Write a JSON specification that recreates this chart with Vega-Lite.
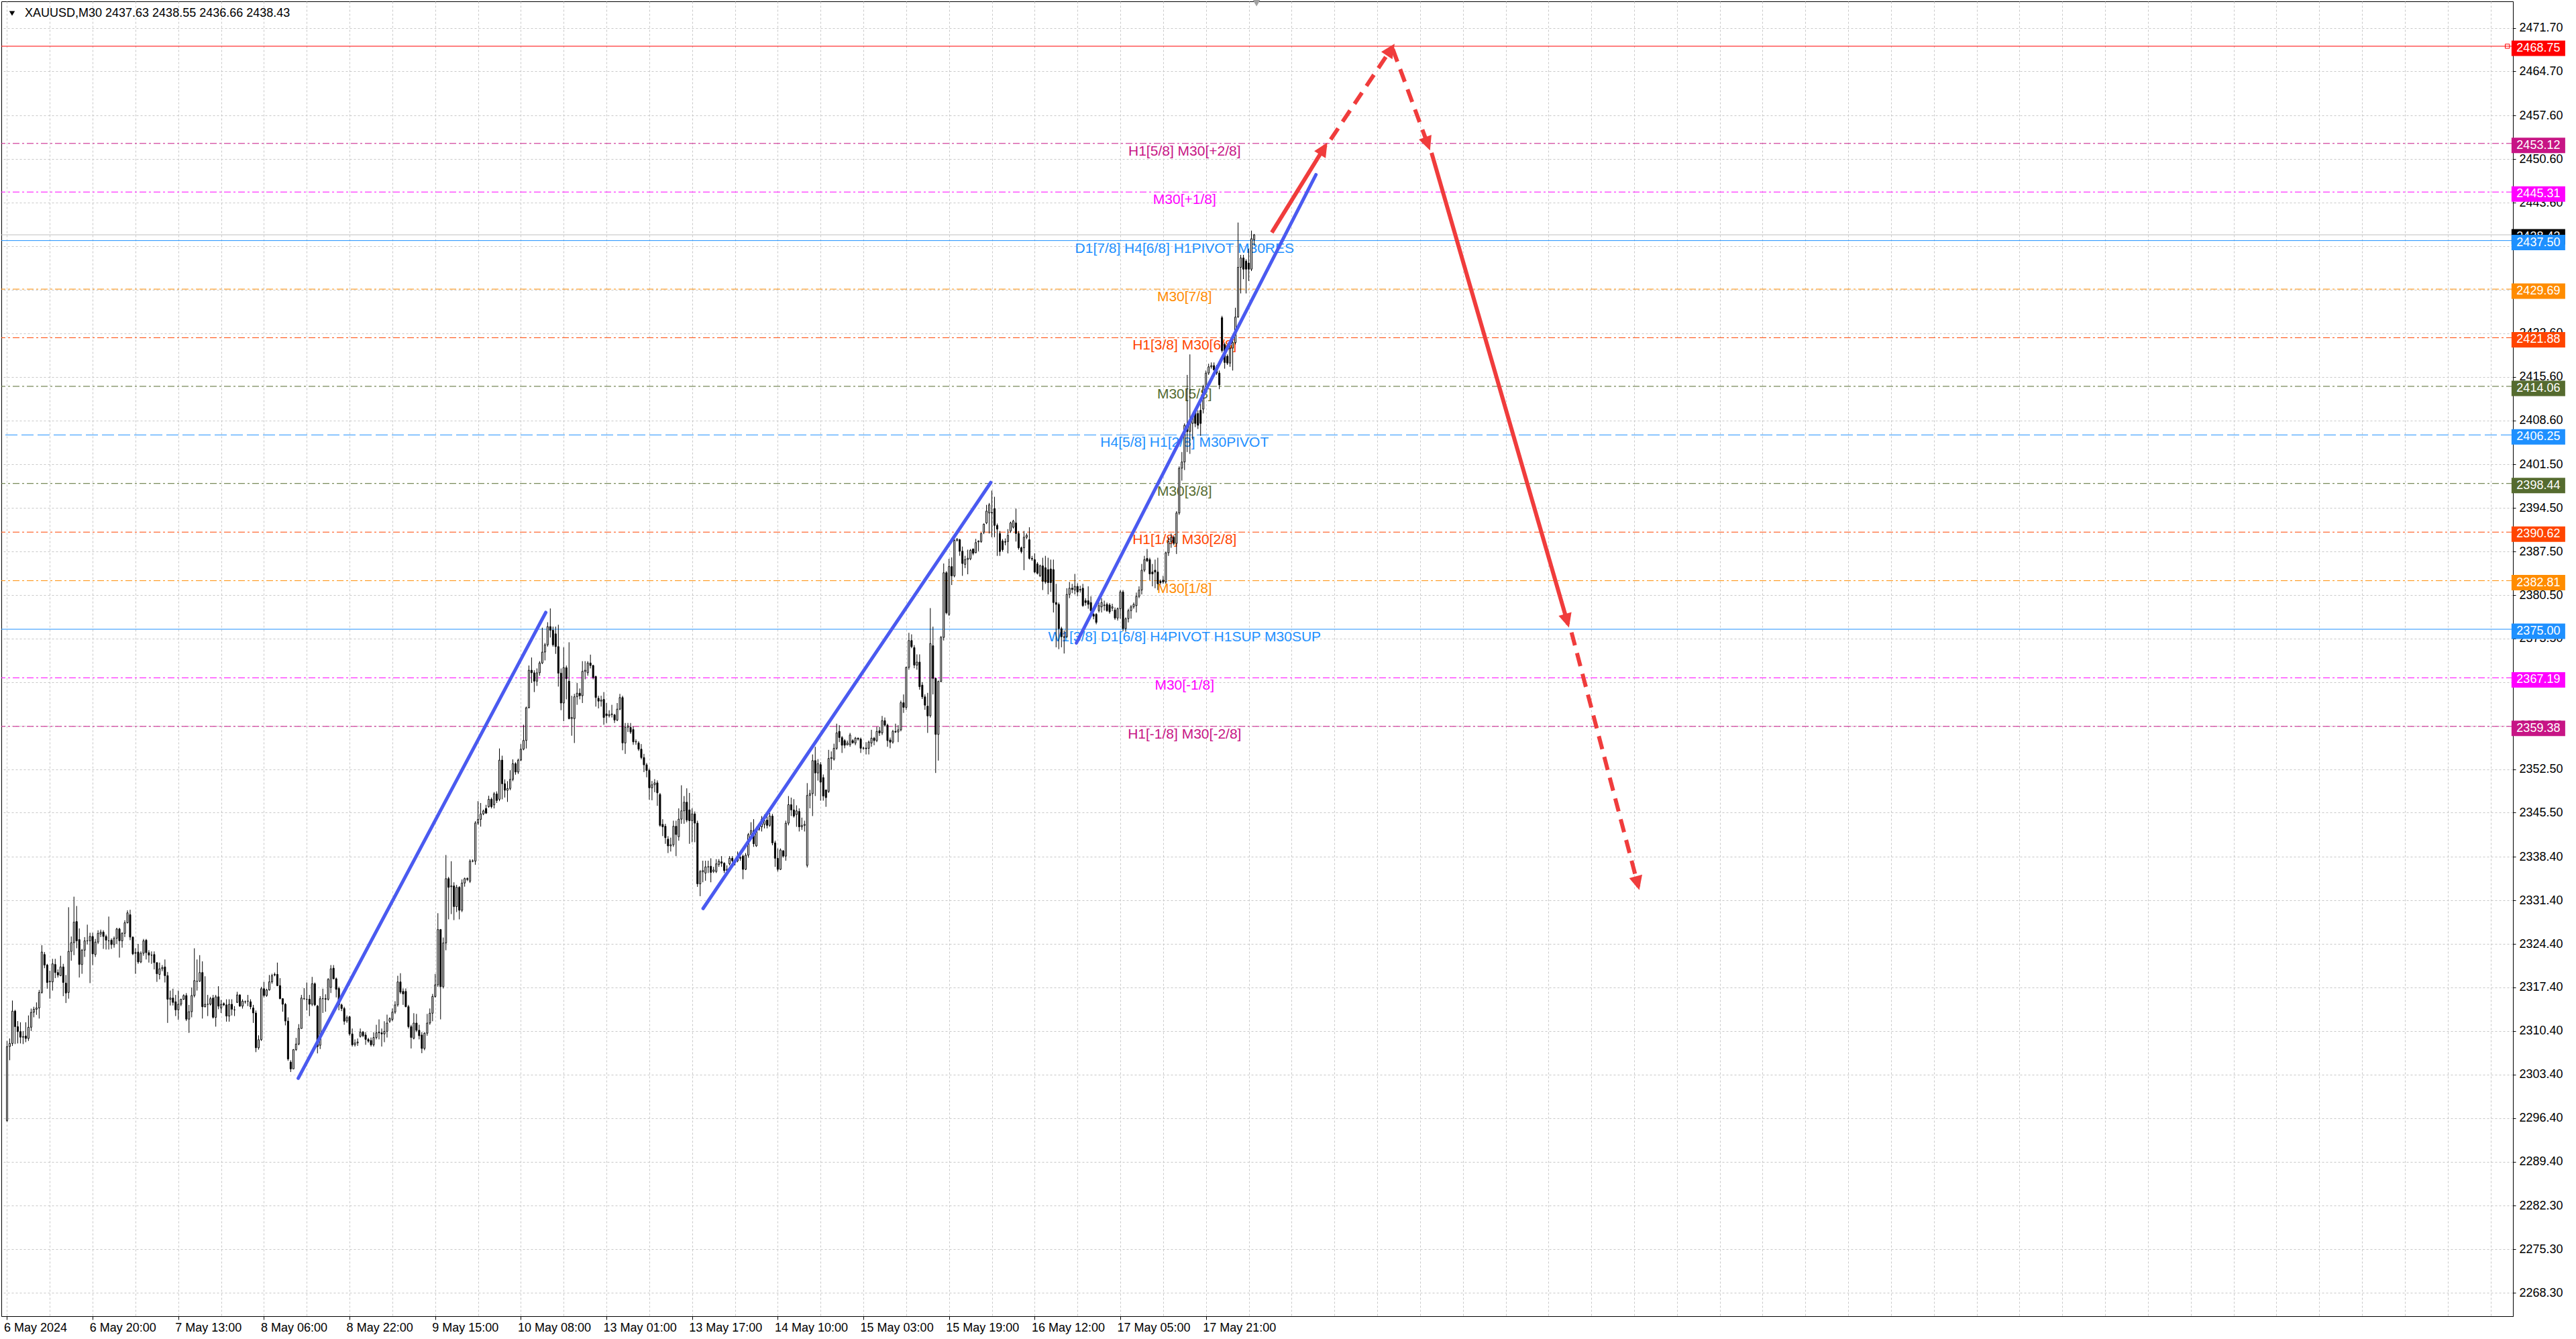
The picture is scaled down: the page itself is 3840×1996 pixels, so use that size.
{
"$schema": "https://vega.github.io/schema/vega-lite/v6.json",
"width": 3744, "height": 1960,
"autosize": {"type": "none"},
"padding": {"left": 2, "top": 2, "right": 94, "bottom": 34},
"background": "white",
"config": {"view": {"stroke": "#000", "strokeWidth": 1}},
"datasets": {
"candles": [
{"i":0,"o":2296.0,"h":2308.8,"l":2295.8,"c":2307.9},{"i":1,"o":2307.9,"h":2309.2,"l":2305.7,"c":2308.4},{"i":2,"o":2308.4,"h":2315.3,"l":2308.0,"c":2313.6},{"i":3,"o":2313.6,"h":2313.8,"l":2308.3,"c":2311.1},{"i":4,"o":2311.1,"h":2312.0,"l":2308.4,"c":2310.3},{"i":5,"o":2310.3,"h":2311.8,"l":2308.4,"c":2309.4},{"i":6,"o":2309.4,"h":2310.4,"l":2308.3,"c":2309.5},{"i":7,"o":2309.6,"h":2311.8,"l":2308.6,"c":2309.2},{"i":8,"o":2309.2,"h":2312.9,"l":2308.8,"c":2311.0},{"i":9,"o":2311.0,"h":2314.0,"l":2310.4,"c":2313.4},
{"i":10,"o":2313.4,"h":2314.3,"l":2312.6,"c":2313.9},{"i":11,"o":2313.9,"h":2315.0,"l":2313.0,"c":2314.1},{"i":12,"o":2314.1,"h":2317.0,"l":2312.4,"c":2316.6},{"i":13,"o":2316.6,"h":2324.2,"l":2316.4,"c":2323.1},{"i":14,"o":2322.7,"h":2323.1,"l":2320.5,"c":2321.0},{"i":15,"o":2321.0,"h":2321.2,"l":2317.2,"c":2318.2},{"i":16,"o":2318.3,"h":2320.1,"l":2315.6,"c":2318.4},{"i":17,"o":2318.3,"h":2322.0,"l":2316.9,"c":2321.2},{"i":18,"o":2321.1,"h":2322.0,"l":2318.9,"c":2319.8},{"i":19,"o":2319.8,"h":2320.3,"l":2319.0,"c":2319.4},
{"i":20,"o":2319.3,"h":2322.5,"l":2319.2,"c":2320.7},{"i":21,"o":2320.7,"h":2321.2,"l":2316.0,"c":2318.2},{"i":22,"o":2318.1,"h":2319.4,"l":2314.9,"c":2316.5},{"i":23,"o":2316.6,"h":2330.3,"l":2315.6,"c":2323.2},{"i":24,"o":2323.2,"h":2325.6,"l":2321.7,"c":2324.6},{"i":25,"o":2324.6,"h":2332.0,"l":2322.6,"c":2327.9},{"i":26,"o":2328.0,"h":2330.5,"l":2323.7,"c":2324.9},{"i":27,"o":2325.1,"h":2326.9,"l":2319.0,"c":2321.1},{"i":28,"o":2321.1,"h":2323.6,"l":2319.6,"c":2323.4},{"i":29,"o":2323.4,"h":2325.5,"l":2322.3,"c":2324.9},
{"i":30,"o":2324.9,"h":2327.5,"l":2324.3,"c":2324.9},{"i":31,"o":2324.9,"h":2326.2,"l":2318.1,"c":2325.6},{"i":32,"o":2325.6,"h":2326.2,"l":2321.0,"c":2322.8},{"i":33,"o":2322.7,"h":2325.2,"l":2322.3,"c":2324.7},{"i":34,"o":2324.7,"h":2326.6,"l":2324.4,"c":2326.1},{"i":35,"o":2326.0,"h":2326.7,"l":2325.5,"c":2326.3},{"i":36,"o":2326.3,"h":2326.6,"l":2323.6,"c":2325.6},{"i":37,"o":2325.6,"h":2325.9,"l":2323.5,"c":2325.0},{"i":38,"o":2324.9,"h":2328.8,"l":2323.5,"c":2324.9},{"i":39,"o":2325.0,"h":2325.3,"l":2323.6,"c":2324.3},
{"i":40,"o":2324.3,"h":2325.6,"l":2323.8,"c":2325.3},{"i":41,"o":2325.3,"h":2327.0,"l":2324.4,"c":2326.8},{"i":42,"o":2326.8,"h":2327.0,"l":2322.2,"c":2324.9},{"i":43,"o":2324.9,"h":2326.3,"l":2323.8,"c":2326.1},{"i":44,"o":2326.1,"h":2328.2,"l":2325.5,"c":2327.8},{"i":45,"o":2327.8,"h":2329.8,"l":2327.7,"c":2329.4},{"i":46,"o":2329.1,"h":2329.9,"l":2325.0,"c":2325.5},{"i":47,"o":2325.5,"h":2325.6,"l":2322.6,"c":2322.8},{"i":48,"o":2322.9,"h":2323.7,"l":2319.6,"c":2323.0},{"i":49,"o":2323.1,"h":2324.4,"l":2321.2,"c":2321.5},
{"i":50,"o":2321.5,"h":2323.2,"l":2321.3,"c":2322.9},{"i":51,"o":2322.9,"h":2325.2,"l":2322.5,"c":2324.9},{"i":52,"o":2325.0,"h":2325.2,"l":2321.9,"c":2323.0},{"i":53,"o":2323.0,"h":2323.4,"l":2321.4,"c":2322.6},{"i":54,"o":2322.6,"h":2323.2,"l":2321.2,"c":2322.6},{"i":55,"o":2322.7,"h":2323.2,"l":2320.3,"c":2321.4},{"i":56,"o":2321.4,"h":2321.4,"l":2318.3,"c":2319.6},{"i":57,"o":2319.5,"h":2321.4,"l":2318.7,"c":2320.4},{"i":58,"o":2320.4,"h":2321.0,"l":2320.0,"c":2320.6},{"i":59,"o":2320.7,"h":2321.9,"l":2318.2,"c":2319.3},
{"i":60,"o":2319.3,"h":2319.9,"l":2311.7,"c":2315.5},{"i":61,"o":2315.5,"h":2316.9,"l":2314.5,"c":2315.7},{"i":62,"o":2315.7,"h":2317.2,"l":2314.5,"c":2315.0},{"i":63,"o":2315.1,"h":2316.2,"l":2312.8,"c":2313.8},{"i":64,"o":2313.8,"h":2316.9,"l":2312.2,"c":2314.7},{"i":65,"o":2314.7,"h":2315.6,"l":2314.4,"c":2315.5},{"i":66,"o":2315.5,"h":2316.3,"l":2315.4,"c":2316.1},{"i":67,"o":2316.1,"h":2316.5,"l":2312.0,"c":2312.3},{"i":68,"o":2312.3,"h":2314.6,"l":2310.1,"c":2313.5},{"i":69,"o":2313.5,"h":2317.4,"l":2312.6,"c":2316.1},
{"i":70,"o":2316.1,"h":2323.7,"l":2315.8,"c":2318.5},{"i":71,"o":2318.4,"h":2321.9,"l":2316.9,"c":2318.4},{"i":72,"o":2318.4,"h":2322.6,"l":2318.3,"c":2319.8},{"i":73,"o":2319.8,"h":2321.6,"l":2312.4,"c":2314.3},{"i":74,"o":2314.3,"h":2319.2,"l":2314.2,"c":2314.7},{"i":75,"o":2314.7,"h":2316.2,"l":2312.8,"c":2314.7},{"i":76,"o":2314.7,"h":2315.9,"l":2314.5,"c":2315.6},{"i":77,"o":2315.7,"h":2316.2,"l":2312.4,"c":2312.6},{"i":78,"o":2312.6,"h":2316.2,"l":2311.1,"c":2315.9},{"i":79,"o":2315.9,"h":2317.6,"l":2313.9,"c":2314.4},
{"i":80,"o":2314.1,"h":2315.4,"l":2313.3,"c":2314.7},{"i":81,"o":2314.8,"h":2315.0,"l":2314.4,"c":2314.6},{"i":82,"o":2314.6,"h":2315.5,"l":2311.9,"c":2312.8},{"i":83,"o":2312.8,"h":2315.5,"l":2311.9,"c":2314.7},{"i":84,"o":2314.7,"h":2315.5,"l":2312.9,"c":2313.9},{"i":85,"o":2313.8,"h":2314.4,"l":2312.8,"c":2313.8},{"i":86,"o":2315.0,"h":2316.7,"l":2314.9,"c":2316.2},{"i":87,"o":2316.2,"h":2316.3,"l":2314.3,"c":2314.4},{"i":88,"o":2314.4,"h":2315.5,"l":2314.0,"c":2315.2},{"i":89,"o":2315.1,"h":2315.3,"l":2314.8,"c":2315.1},
{"i":90,"o":2315.2,"h":2316.2,"l":2314.4,"c":2315.2},{"i":91,"o":2315.1,"h":2315.5,"l":2313.9,"c":2314.3},{"i":92,"o":2314.1,"h":2314.6,"l":2311.7,"c":2313.3},{"i":93,"o":2313.3,"h":2313.7,"l":2307.0,"c":2307.7},{"i":94,"o":2307.7,"h":2309.7,"l":2307.4,"c":2309.0},{"i":95,"o":2309.0,"h":2317.5,"l":2308.8,"c":2317.2},{"i":96,"o":2317.2,"h":2318.3,"l":2315.8,"c":2316.1},{"i":97,"o":2316.1,"h":2317.2,"l":2315.9,"c":2317.0},{"i":98,"o":2317.0,"h":2319.4,"l":2316.9,"c":2318.3},{"i":99,"o":2318.3,"h":2319.6,"l":2318.0,"c":2319.3},
{"i":100,"o":2319.4,"h":2319.8,"l":2319.2,"c":2319.5},{"i":101,"o":2319.5,"h":2321.4,"l":2317.6,"c":2317.7},{"i":102,"o":2317.7,"h":2318.9,"l":2315.5,"c":2315.6},{"i":103,"o":2315.6,"h":2315.6,"l":2313.5,"c":2314.7},{"i":104,"o":2314.7,"h":2314.9,"l":2311.3,"c":2312.0},{"i":105,"o":2312.0,"h":2312.6,"l":2305.6,"c":2305.9},{"i":106,"o":2305.4,"h":2305.7,"l":2303.8,"c":2304.3},{"i":107,"o":2304.3,"h":2307.5,"l":2304.3,"c":2307.4},{"i":108,"o":2307.4,"h":2309.3,"l":2307.2,"c":2308.3},{"i":109,"o":2308.3,"h":2311.5,"l":2308.1,"c":2310.8},
{"i":110,"o":2310.8,"h":2316.2,"l":2310.8,"c":2315.7},{"i":111,"o":2315.6,"h":2317.3,"l":2315.4,"c":2315.6},{"i":112,"o":2315.5,"h":2318.2,"l":2313.7,"c":2315.5},{"i":113,"o":2315.5,"h":2316.2,"l":2312.8,"c":2314.7},{"i":114,"o":2314.7,"h":2319.1,"l":2314.4,"c":2318.0},{"i":115,"o":2318.0,"h":2318.2,"l":2314.4,"c":2314.6},{"i":116,"o":2314.4,"h":2314.6,"l":2306.8,"c":2307.9},{"i":117,"o":2308.1,"h":2316.0,"l":2307.5,"c":2315.6},{"i":118,"o":2315.6,"h":2317.2,"l":2313.3,"c":2315.6},{"i":119,"o":2315.6,"h":2316.3,"l":2313.5,"c":2315.5},
{"i":120,"o":2315.5,"h":2318.9,"l":2315.3,"c":2318.7},{"i":121,"o":2317.4,"h":2321.0,"l":2316.5,"c":2320.4},{"i":122,"o":2320.5,"h":2321.0,"l":2318.7,"c":2318.8},{"i":123,"o":2318.8,"h":2319.0,"l":2315.8,"c":2317.1},{"i":124,"o":2317.24,"h":2317.53,"l":2313.73,"c":2314.6},{"i":125,"o":2314.6,"h":2314.8,"l":2313.6,"c":2314.02},{"i":126,"o":2314.02,"h":2314.3,"l":2311.4,"c":2311.97},{"i":127,"o":2312.0,"h":2312.9,"l":2311.7,"c":2312.56},{"i":128,"o":2312.68,"h":2312.85,"l":2309.64,"c":2309.93},{"i":129,"o":2309.93,"h":2310.8,"l":2307.9,"c":2308.18},
{"i":130,"o":2308.2,"h":2309.05,"l":2307.9,"c":2308.47},{"i":131,"o":2308.47,"h":2309.2,"l":2308.0,"c":2308.64},{"i":132,"o":2309.52,"h":2310.8,"l":2309.35,"c":2310.22},{"i":133,"o":2310.22,"h":2310.4,"l":2309.4,"c":2309.64},{"i":134,"o":2309.75,"h":2310.22,"l":2308.18,"c":2309.05},{"i":135,"o":2309.05,"h":2309.3,"l":2308.5,"c":2308.76},{"i":136,"o":2308.88,"h":2309.35,"l":2307.9,"c":2308.18},{"i":137,"o":2308.18,"h":2310.2,"l":2307.9,"c":2309.35},{"i":138,"o":2309.35,"h":2311.4,"l":2309.05,"c":2310.1},{"i":139,"o":2310.1,"h":2312.27,"l":2309.05,"c":2310.22},
{"i":140,"o":2310.1,"h":2310.8,"l":2307.9,"c":2309.93},{"i":141,"o":2309.93,"h":2311.97,"l":2308.6,"c":2310.34},{"i":142,"o":2310.34,"h":2313.03,"l":2309.35,"c":2311.68},{"i":143,"o":2311.97,"h":2312.6,"l":2311.7,"c":2312.38},{"i":144,"o":2312.27,"h":2314.02,"l":2311.97,"c":2313.44},{"i":145,"o":2313.44,"h":2315.19,"l":2313.15,"c":2314.6},{"i":146,"o":2314.6,"h":2319.28,"l":2314.31,"c":2318.29},{"i":147,"o":2318.29,"h":2319.69,"l":2316.36,"c":2316.65},{"i":148,"o":2316.77,"h":2317.24,"l":2314.6,"c":2316.36},{"i":149,"o":2316.77,"h":2317.24,"l":2314.2,"c":2314.31},
{"i":150,"o":2314.31,"h":2314.6,"l":2310.8,"c":2311.1},{"i":151,"o":2311.1,"h":2311.4,"l":2307.59,"c":2309.35},{"i":152,"o":2309.23,"h":2313.26,"l":2309.05,"c":2311.68},{"i":153,"o":2311.68,"h":2313.15,"l":2310.22,"c":2310.51},{"i":154,"o":2310.51,"h":2311.4,"l":2309.05,"c":2309.64},{"i":155,"o":2309.75,"h":2310.22,"l":2306.83,"c":2307.59},{"i":156,"o":2307.59,"h":2310.2,"l":2307.3,"c":2310.04},{"i":157,"o":2310.04,"h":2313.15,"l":2309.64,"c":2311.68},{"i":158,"o":2311.68,"h":2314.02,"l":2311.4,"c":2313.26},{"i":159,"o":2313.26,"h":2316.36,"l":2311.97,"c":2315.95},
{"i":160,"o":2315.95,"h":2319.58,"l":2315.78,"c":2317.82},{"i":161,"o":2317.82,"h":2329.34,"l":2317.5,"c":2326.71},{"i":162,"o":2326.71,"h":2326.8,"l":2312.27,"c":2317.53},{"i":163,"o":2317.53,"h":2325.43,"l":2317.24,"c":2324.55},{"i":164,"o":2324.55,"h":2338.7,"l":2323.38,"c":2334.9},{"i":165,"o":2334.9,"h":2335.19,"l":2328.35,"c":2333.5},{"i":166,"o":2333.6,"h":2337.7,"l":2329.2,"c":2333.73},{"i":167,"o":2333.73,"h":2334.31,"l":2328.23,"c":2330.4},{"i":168,"o":2330.4,"h":2333.9,"l":2329.52,"c":2333.5},{"i":169,"o":2333.5,"h":2333.7,"l":2328.35,"c":2329.81},
{"i":170,"o":2329.81,"h":2334.78,"l":2329.52,"c":2334.2},{"i":171,"o":2334.2,"h":2335.07,"l":2333.61,"c":2334.9},{"i":172,"o":2334.9,"h":2335.1,"l":2334.5,"c":2334.78},{"i":173,"o":2334.49,"h":2338.0,"l":2334.2,"c":2337.71},{"i":174,"o":2337.71,"h":2338.0,"l":2337.53,"c":2337.75},{"i":175,"o":2337.71,"h":2344.14,"l":2337.12,"c":2343.85},{"i":176,"o":2343.85,"h":2347.36,"l":2343.55,"c":2344.43},{"i":177,"o":2344.43,"h":2347.06,"l":2343.26,"c":2345.31},{"i":178,"o":2345.31,"h":2346.0,"l":2345.1,"c":2345.78},{"i":179,"o":2346.19,"h":2346.77,"l":2345.31,"c":2345.43},
{"i":180,"o":2346.48,"h":2348.23,"l":2346.3,"c":2347.65},{"i":181,"o":2347.65,"h":2347.94,"l":2346.19,"c":2346.48},{"i":182,"o":2346.77,"h":2348.82,"l":2346.19,"c":2348.53},{"i":183,"o":2348.53,"h":2348.93,"l":2347.06,"c":2347.47},{"i":184,"o":2347.65,"h":2355.83,"l":2347.36,"c":2353.96},{"i":185,"o":2353.96,"h":2354.67,"l":2347.65,"c":2350.16},{"i":186,"o":2350.16,"h":2350.86,"l":2347.94,"c":2349.11},{"i":187,"o":2349.11,"h":2350.57,"l":2347.24,"c":2349.4},{"i":188,"o":2349.4,"h":2352.33,"l":2349.11,"c":2350.86},{"i":189,"o":2350.86,"h":2354.08,"l":2350.57,"c":2353.38},
{"i":190,"o":2353.38,"h":2353.61,"l":2351.62,"c":2352.04},{"i":191,"o":2352.04,"h":2354.2,"l":2351.74,"c":2353.96},{"i":192,"o":2353.96,"h":2356.54,"l":2353.79,"c":2355.72},{"i":193,"o":2355.72,"h":2359.64,"l":2355.54,"c":2357.12},{"i":194,"o":2357.12,"h":2362.56,"l":2355.83,"c":2362.38},{"i":195,"o":2362.38,"h":2369.17,"l":2362.27,"c":2368.41},{"i":196,"o":2368.41,"h":2370.46,"l":2366.36,"c":2368.0},{"i":197,"o":2368.0,"h":2368.41,"l":2364.9,"c":2366.65},{"i":198,"o":2366.65,"h":2368.7,"l":2365.89,"c":2368.0},{"i":199,"o":2368.0,"h":2369.87,"l":2367.53,"c":2369.58},
{"i":200,"o":2369.58,"h":2375.25,"l":2369.4,"c":2371.33},{"i":201,"o":2371.33,"h":2372.79,"l":2369.99,"c":2372.5},{"i":202,"o":2372.5,"h":2376.13,"l":2372.21,"c":2375.43},{"i":203,"o":2375.43,"h":2378.35,"l":2373.67,"c":2374.84},{"i":204,"o":2374.84,"h":2375.43,"l":2372.21,"c":2372.5},{"i":205,"o":2374.26,"h":2375.43,"l":2371.04,"c":2372.21},{"i":206,"o":2372.21,"h":2375.72,"l":2365.78,"c":2367.94},{"i":207,"o":2367.94,"h":2368.7,"l":2361.98,"c":2363.14},{"i":208,"o":2363.14,"h":2372.09,"l":2360.22,"c":2368.82},{"i":209,"o":2368.82,"h":2369.17,"l":2363.73,"c":2367.06},
{"i":210,"o":2366.65,"h":2372.91,"l":2360.51,"c":2360.63},{"i":211,"o":2360.63,"h":2364.31,"l":2357.88,"c":2360.81},{"i":212,"o":2360.63,"h":2364.61,"l":2356.71,"c":2364.14},{"i":213,"o":2364.14,"h":2366.36,"l":2362.85,"c":2364.72},{"i":214,"o":2364.72,"h":2365.48,"l":2363.73,"c":2364.31},{"i":215,"o":2364.31,"h":2369.87,"l":2363.14,"c":2368.23},{"i":216,"o":2368.23,"h":2369.87,"l":2366.95,"c":2368.41},{"i":217,"o":2368.0,"h":2369.87,"l":2367.53,"c":2369.58},{"i":218,"o":2369.58,"h":2370.92,"l":2368.7,"c":2369.17},{"i":219,"o":2369.17,"h":2369.29,"l":2366.95,"c":2367.24},
{"i":220,"o":2367.41,"h":2367.53,"l":2362.56,"c":2364.02},{"i":221,"o":2363.9,"h":2364.31,"l":2362.27,"c":2363.44},{"i":222,"o":2363.44,"h":2364.31,"l":2362.56,"c":2363.61},{"i":223,"o":2363.73,"h":2364.9,"l":2359.64,"c":2360.81},{"i":224,"o":2361.39,"h":2363.14,"l":2359.93,"c":2361.1},{"i":225,"o":2361.1,"h":2361.98,"l":2360.81,"c":2361.27},{"i":226,"o":2361.27,"h":2362.85,"l":2360.81,"c":2361.39},{"i":227,"o":2361.22,"h":2361.39,"l":2359.93,"c":2360.4},{"i":228,"o":2360.4,"h":2363.14,"l":2360.22,"c":2362.15},{"i":229,"o":2362.15,"h":2364.61,"l":2361.98,"c":2364.02},
{"i":230,"o":2364.02,"h":2364.31,"l":2355.54,"c":2356.71},{"i":231,"o":2356.71,"h":2359.93,"l":2354.96,"c":2359.23},{"i":232,"o":2359.23,"h":2359.93,"l":2358.47,"c":2359.46},{"i":233,"o":2359.23,"h":2359.93,"l":2358.17,"c":2358.47},{"i":234,"o":2358.88,"h":2359.35,"l":2356.42,"c":2356.89},{"i":235,"o":2356.89,"h":2357.3,"l":2356.42,"c":2356.95},{"i":236,"o":2356.71,"h":2357.0,"l":2355.43,"c":2355.72},{"i":237,"o":2355.72,"h":2356.54,"l":2354.08,"c":2354.37},{"i":238,"o":2354.37,"h":2354.96,"l":2352.03,"c":2353.2},{"i":239,"o":2353.2,"h":2353.5,"l":2351.2,"c":2352.3},
{"i":240,"o":2352.3,"h":2352.6,"l":2347.6,"c":2349.5},{"i":241,"o":2349.5,"h":2350.6,"l":2347.5,"c":2350.0},{"i":242,"o":2350.0,"h":2350.9,"l":2348.8,"c":2350.3},{"i":243,"o":2350.3,"h":2350.7,"l":2346.6,"c":2348.7},{"i":244,"o":2348.43,"h":2348.68,"l":2343.23,"c":2343.47},{"i":245,"o":2343.62,"h":2344.46,"l":2341.74,"c":2343.23},{"i":246,"o":2343.32,"h":2343.72,"l":2340.5,"c":2341.49},{"i":247,"o":2341.25,"h":2341.74,"l":2339.01,"c":2340.16},{"i":248,"o":2340.16,"h":2341.49,"l":2339.26,"c":2340.35},{"i":249,"o":2340.35,"h":2344.22,"l":2340.01,"c":2343.32},
{"i":250,"o":2343.32,"h":2344.22,"l":2338.52,"c":2341.99},{"i":251,"o":2341.64,"h":2346.2,"l":2341.0,"c":2344.46},{"i":252,"o":2344.46,"h":2349.91,"l":2343.72,"c":2345.8},{"i":253,"o":2345.8,"h":2348.18,"l":2343.72,"c":2347.19},{"i":254,"o":2347.19,"h":2349.42,"l":2343.97,"c":2344.32},{"i":255,"o":2345.95,"h":2348.68,"l":2340.5,"c":2344.22},{"i":256,"o":2344.22,"h":2346.2,"l":2340.75,"c":2345.31},{"i":257,"o":2345.31,"h":2345.7,"l":2340.75,"c":2343.82},{"i":258,"o":2343.82,"h":2344.22,"l":2333.57,"c":2334.06},{"i":259,"o":2334.06,"h":2336.29,"l":2332.08,"c":2336.04},
{"i":260,"o":2336.0,"h":2337.78,"l":2334.31,"c":2336.2},{"i":261,"o":2335.8,"h":2337.78,"l":2334.56,"c":2336.79},{"i":262,"o":2336.79,"h":2337.78,"l":2335.8,"c":2336.8},{"i":263,"o":2336.89,"h":2338.17,"l":2334.31,"c":2335.9},{"i":264,"o":2336.04,"h":2336.79,"l":2335.8,"c":2336.29},{"i":265,"o":2336.04,"h":2338.03,"l":2335.8,"c":2337.28},{"i":266,"o":2337.18,"h":2338.03,"l":2336.79,"c":2337.68},{"i":267,"o":2337.6,"h":2338.52,"l":2336.79,"c":2337.38},{"i":268,"o":2337.38,"h":2337.53,"l":2335.8,"c":2336.19},{"i":269,"o":2336.2,"h":2337.03,"l":2336.04,"c":2336.39},
{"i":270,"o":2337.28,"h":2338.52,"l":2337.03,"c":2338.17},{"i":271,"o":2338.17,"h":2338.52,"l":2337.53,"c":2337.78},{"i":272,"o":2337.78,"h":2338.03,"l":2337.03,"c":2337.8},{"i":273,"o":2337.78,"h":2339.26,"l":2337.53,"c":2338.17},{"i":274,"o":2338.17,"h":2338.77,"l":2337.78,"c":2338.3},{"i":275,"o":2338.52,"h":2338.77,"l":2334.81,"c":2336.39},{"i":276,"o":2336.39,"h":2339.01,"l":2336.29,"c":2338.67},{"i":277,"o":2338.67,"h":2342.24,"l":2338.27,"c":2341.99},{"i":278,"o":2341.99,"h":2343.97,"l":2341.25,"c":2342.63},{"i":279,"o":2342.63,"h":2344.46,"l":2340.01,"c":2340.5},
{"i":280,"o":2340.16,"h":2343.23,"l":2340.01,"c":2342.83},{"i":281,"o":2342.83,"h":2343.5,"l":2342.6,"c":2343.23},{"i":282,"o":2343.23,"h":2344.96,"l":2342.48,"c":2344.46},{"i":283,"o":2343.62,"h":2345.21,"l":2342.98,"c":2344.22},{"i":284,"o":2344.32,"h":2344.96,"l":2342.98,"c":2343.47},{"i":285,"o":2343.47,"h":2345.45,"l":2343.23,"c":2344.96},{"i":286,"o":2344.96,"h":2345.31,"l":2340.26,"c":2340.65},{"i":287,"o":2340.65,"h":2341.0,"l":2336.79,"c":2338.17},{"i":288,"o":2338.17,"h":2339.76,"l":2336.04,"c":2336.39},{"i":289,"o":2336.39,"h":2339.76,"l":2336.29,"c":2339.51},
{"i":290,"o":2339.36,"h":2339.51,"l":2338.27,"c":2338.52},{"i":291,"o":2338.52,"h":2344.22,"l":2337.78,"c":2343.82},{"i":292,"o":2343.82,"h":2348.18,"l":2343.47,"c":2346.79},{"i":293,"o":2346.79,"h":2347.93,"l":2344.96,"c":2345.95},{"i":294,"o":2345.95,"h":2347.68,"l":2344.71,"c":2344.96},{"i":295,"o":2345.21,"h":2346.69,"l":2343.23,"c":2345.8},{"i":296,"o":2345.7,"h":2346.2,"l":2342.48,"c":2343.23},{"i":297,"o":2343.23,"h":2344.71,"l":2342.73,"c":2343.47},{"i":298,"o":2343.47,"h":2344.22,"l":2342.48,"c":2343.62},{"i":299,"o":2337.03,"h":2350.26,"l":2336.69,"c":2348.28},
{"i":300,"o":2348.28,"h":2349.17,"l":2346.2,"c":2348.57},{"i":301,"o":2348.57,"h":2354.87,"l":2344.96,"c":2353.88},{"i":302,"o":2353.88,"h":2356.1,"l":2348.18,"c":2351.89},{"i":303,"o":2351.89,"h":2354.12,"l":2350.66,"c":2353.38},{"i":304,"o":2353.23,"h":2353.63,"l":2347.44,"c":2350.41},{"i":305,"o":2351.15,"h":2351.65,"l":2347.44,"c":2348.18},{"i":306,"o":2349.17,"h":2349.17,"l":2346.45,"c":2347.93},{"i":307,"o":2348.92,"h":2355.61,"l":2348.68,"c":2354.22},{"i":308,"o":2354.22,"h":2355.36,"l":2352.39,"c":2354.37},{"i":309,"o":2354.12,"h":2356.6,"l":2353.88,"c":2355.86},
{"i":310,"o":2355.86,"h":2359.82,"l":2355.61,"c":2358.33},{"i":311,"o":2358.58,"h":2359.57,"l":2356.85,"c":2357.59},{"i":312,"o":2357.59,"h":2357.84,"l":2355.11,"c":2356.35},{"i":313,"o":2357.1,"h":2357.34,"l":2355.86,"c":2356.35},{"i":314,"o":2356.4,"h":2357.1,"l":2356.35,"c":2356.7},{"i":315,"o":2356.45,"h":2358.33,"l":2356.1,"c":2357.99},{"i":316,"o":2357.1,"h":2357.34,"l":2356.6,"c":2356.75},{"i":317,"o":2356.7,"h":2357.69,"l":2356.35,"c":2357.49},{"i":318,"o":2357.49,"h":2357.59,"l":2357.1,"c":2357.34},{"i":319,"o":2357.34,"h":2357.59,"l":2355.11,"c":2355.86},
{"i":320,"o":2355.86,"h":2356.1,"l":2355.61,"c":2355.9},{"i":321,"o":2355.9,"h":2356.85,"l":2354.87,"c":2355.8},{"i":322,"o":2355.86,"h":2357.1,"l":2354.87,"c":2356.85},{"i":323,"o":2356.7,"h":2358.83,"l":2356.1,"c":2357.49},{"i":324,"o":2357.49,"h":2357.69,"l":2356.35,"c":2357.1},{"i":325,"o":2357.1,"h":2359.32,"l":2356.85,"c":2358.58},{"i":326,"o":2358.68,"h":2359.32,"l":2357.84,"c":2358.33},{"i":327,"o":2358.33,"h":2361.06,"l":2357.99,"c":2360.31},{"i":328,"o":2360.31,"h":2360.81,"l":2359.32,"c":2359.57},{"i":329,"o":2359.57,"h":2359.82,"l":2356.1,"c":2357.1},
{"i":330,"o":2357.2,"h":2357.59,"l":2355.86,"c":2356.85},{"i":331,"o":2356.85,"h":2358.83,"l":2356.6,"c":2358.58},{"i":332,"o":2358.58,"h":2359.82,"l":2358.33,"c":2358.48},{"i":333,"o":2358.48,"h":2359.57,"l":2356.85,"c":2358.83},{"i":334,"o":2358.83,"h":2363.53,"l":2358.58,"c":2363.19},{"i":335,"o":2363.19,"h":2364.52,"l":2361.55,"c":2362.44},{"i":336,"o":2362.44,"h":2368.98,"l":2362.05,"c":2368.88},{"i":337,"o":2368.88,"h":2374.43,"l":2368.49,"c":2373.19},{"i":338,"o":2373.19,"h":2374.18,"l":2371.95,"c":2372.2},{"i":339,"o":2372.05,"h":2372.45,"l":2368.73,"c":2369.23},
{"i":340,"o":2369.23,"h":2370.96,"l":2368.49,"c":2369.72},{"i":341,"o":2369.72,"h":2370.96,"l":2365.27,"c":2365.76},{"i":342,"o":2366.01,"h":2366.5,"l":2363.78,"c":2364.13},{"i":343,"o":2364.13,"h":2364.52,"l":2362.05,"c":2362.79},{"i":344,"o":2362.64,"h":2364.77,"l":2358.33,"c":2361.06},{"i":345,"o":2361.1,"h":2378.4,"l":2360.8,"c":2372.7},{"i":346,"o":2372.35,"h":2375.42,"l":2364.52,"c":2367.1},{"i":347,"o":2367.1,"h":2367.25,"l":2351.89,"c":2358.09},{"i":348,"o":2358.09,"h":2366.75,"l":2353.88,"c":2366.6},{"i":349,"o":2366.6,"h":2373.93,"l":2366.5,"c":2373.69},
{"i":350,"o":2373.69,"h":2385.57,"l":2373.19,"c":2384.09},{"i":351,"o":2384.09,"h":2384.34,"l":2377.4,"c":2377.65},{"i":352,"o":2377.4,"h":2386.32,"l":2377.15,"c":2385.08},{"i":353,"o":2385.08,"h":2386.56,"l":2382.11,"c":2383.59},{"i":354,"o":2383.59,"h":2389.54,"l":2383.35,"c":2389.29},{"i":355,"o":2389.29,"h":2389.6,"l":2389.1,"c":2389.54},{"i":356,"o":2389.39,"h":2389.54,"l":2386.81,"c":2387.55},{"i":357,"o":2387.55,"h":2388.3,"l":2383.59,"c":2385.57},{"i":358,"o":2385.43,"h":2386.81,"l":2384.83,"c":2386.22},{"i":359,"o":2386.22,"h":2387.8,"l":2383.84,"c":2386.42},
{"i":360,"o":2386.32,"h":2387.9,"l":2386.1,"c":2387.7},{"i":361,"o":2387.9,"h":2388.0,"l":2386.9,"c":2387.21},{"i":362,"o":2387.31,"h":2389.54,"l":2387.21,"c":2388.94},{"i":363,"o":2389.04,"h":2389.3,"l":2387.55,"c":2389.19},{"i":364,"o":2389.1,"h":2390.5,"l":2388.9,"c":2390.4},{"i":365,"o":2390.6,"h":2392.0,"l":2390.3,"c":2391.9},{"i":366,"o":2392.1,"h":2395.0,"l":2391.9,"c":2394.0},{"i":367,"o":2393.7,"h":2395.3,"l":2390.4,"c":2395.0},{"i":368,"o":2393.7,"h":2397.3,"l":2389.8,"c":2393.8},{"i":369,"o":2394.4,"h":2396.3,"l":2389.8,"c":2391.7},
{"i":370,"o":2391.7,"h":2392.0,"l":2386.8,"c":2391.1},{"i":371,"o":2390.4,"h":2390.8,"l":2386.8,"c":2387.5},{"i":372,"o":2389.2,"h":2389.5,"l":2387.5,"c":2387.8},{"i":373,"o":2389.1,"h":2389.6,"l":2388.5,"c":2389.0},{"i":374,"o":2389.1,"h":2391.1,"l":2387.2,"c":2390.1},{"i":375,"o":2390.8,"h":2392.3,"l":2390.5,"c":2392.1},{"i":376,"o":2391.4,"h":2392.6,"l":2391.2,"c":2392.4},{"i":377,"o":2392.1,"h":2394.4,"l":2389.1,"c":2390.4},{"i":378,"o":2390.4,"h":2390.8,"l":2387.8,"c":2388.1},{"i":379,"o":2388.1,"h":2388.3,"l":2387.2,"c":2387.5},
{"i":380,"o":2388.1,"h":2390.8,"l":2384.5,"c":2389.8},{"i":381,"o":2389.8,"h":2390.4,"l":2389.5,"c":2390.1},{"i":382,"o":2389.4,"h":2391.4,"l":2386.2,"c":2386.4},{"i":383,"o":2386.4,"h":2386.8,"l":2386.0,"c":2386.3},{"i":384,"o":2386.2,"h":2387.2,"l":2384.0,"c":2384.2},{"i":385,"o":2385.5,"h":2385.8,"l":2383.8,"c":2384.0},{"i":386,"o":2383.6,"h":2385.4,"l":2383.4,"c":2385.2},{"i":387,"o":2385.2,"h":2386.5,"l":2381.3,"c":2382.7},{"i":388,"o":2384.9,"h":2386.8,"l":2382.3,"c":2382.6},{"i":389,"o":2384.6,"h":2386.5,"l":2380.6,"c":2382.5},
{"i":390,"o":2384.7,"h":2386.2,"l":2381.0,"c":2382.5},{"i":391,"o":2384.6,"h":2386.2,"l":2377.7,"c":2379.3},{"i":392,"o":2379.3,"h":2382.3,"l":2372.1,"c":2379.0},{"i":393,"o":2379.0,"h":2379.3,"l":2371.8,"c":2375.1},{"i":394,"o":2375.1,"h":2375.4,"l":2372.1,"c":2373.8},{"i":395,"o":2373.8,"h":2374.8,"l":2371.1,"c":2373.7},{"i":396,"o":2373.8,"h":2381.6,"l":2373.6,"c":2380.6},{"i":397,"o":2380.6,"h":2382.6,"l":2380.0,"c":2381.6},{"i":398,"o":2381.6,"h":2382.3,"l":2380.8,"c":2381.4},{"i":399,"o":2381.3,"h":2383.9,"l":2380.6,"c":2381.9},
{"i":400,"o":2381.9,"h":2382.4,"l":2380.3,"c":2381.0},{"i":401,"o":2381.4,"h":2382.0,"l":2380.9,"c":2381.3},{"i":402,"o":2381.6,"h":2382.3,"l":2378.6,"c":2378.8},{"i":403,"o":2379.6,"h":2380.0,"l":2378.8,"c":2379.3},{"i":404,"o":2379.6,"h":2381.9,"l":2378.3,"c":2379.0},{"i":405,"o":2379.3,"h":2380.3,"l":2377.7,"c":2378.0},{"i":406,"o":2377.4,"h":2377.6,"l":2376.6,"c":2377.1},{"i":407,"o":2377.4,"h":2377.6,"l":2375.8,"c":2376.1},{"i":408,"o":2378.0,"h":2379.3,"l":2377.7,"c":2378.8},{"i":409,"o":2378.6,"h":2380.0,"l":2377.7,"c":2379.3},
{"i":410,"o":2378.8,"h":2379.6,"l":2378.0,"c":2378.9},{"i":411,"o":2379.0,"h":2379.3,"l":2377.8,"c":2378.0},{"i":412,"o":2378.9,"h":2379.2,"l":2377.5,"c":2377.8},{"i":413,"o":2378.4,"h":2379.1,"l":2377.9,"c":2378.6},{"i":414,"o":2378.1,"h":2378.5,"l":2376.5,"c":2376.8},{"i":415,"o":2376.8,"h":2378.5,"l":2376.4,"c":2378.3},{"i":416,"o":2378.3,"h":2381.3,"l":2376.7,"c":2381.0},{"i":417,"o":2381.0,"h":2381.3,"l":2374.7,"c":2375.1},{"i":418,"o":2375.1,"h":2376.9,"l":2374.6,"c":2376.7},{"i":419,"o":2376.7,"h":2378.3,"l":2376.1,"c":2378.0},
{"i":420,"o":2378.0,"h":2378.9,"l":2376.7,"c":2378.6},{"i":421,"o":2378.6,"h":2379.3,"l":2378.3,"c":2379.0},{"i":422,"o":2378.8,"h":2380.9,"l":2377.7,"c":2380.3},{"i":423,"o":2380.3,"h":2381.9,"l":2380.0,"c":2381.3},{"i":424,"o":2381.3,"h":2385.5,"l":2380.6,"c":2384.5},{"i":425,"o":2384.5,"h":2386.8,"l":2384.2,"c":2386.2},{"i":426,"o":2386.4,"h":2387.9,"l":2385.8,"c":2386.0},{"i":427,"o":2386.2,"h":2386.5,"l":2382.9,"c":2383.9},{"i":428,"o":2384.2,"h":2385.5,"l":2381.9,"c":2383.9},{"i":429,"o":2384.5,"h":2386.2,"l":2381.6,"c":2384.2},
{"i":430,"o":2384.2,"h":2386.5,"l":2381.3,"c":2382.3},{"i":431,"o":2382.7,"h":2383.0,"l":2382.2,"c":2382.5},{"i":432,"o":2382.9,"h":2383.6,"l":2382.3,"c":2382.6},{"i":433,"o":2382.6,"h":2387.5,"l":2382.3,"c":2387.3},{"i":434,"o":2387.3,"h":2389.8,"l":2386.8,"c":2389.1},{"i":435,"o":2389.1,"h":2390.4,"l":2388.1,"c":2389.8},{"i":436,"o":2389.8,"h":2390.1,"l":2388.5,"c":2388.8},{"i":437,"o":2388.8,"h":2394.0,"l":2387.1,"c":2393.7},{"i":438,"o":2393.7,"h":2401.2,"l":2393.4,"c":2400.9},{"i":439,"o":2400.9,"h":2403.5,"l":2398.9,"c":2401.9},
{"i":440,"o":2401.9,"h":2408.1,"l":2400.6,"c":2407.8},{"i":441,"o":2407.8,"h":2415.9,"l":2403.5,"c":2406.8},{"i":442,"o":2406.8,"h":2419.2,"l":2403.2,"c":2408.4},{"i":443,"o":2408.1,"h":2409.7,"l":2405.5,"c":2409.4},{"i":444,"o":2410.0,"h":2410.5,"l":2407.5,"c":2408.1},{"i":445,"o":2409.7,"h":2410.2,"l":2407.2,"c":2407.8},{"i":446,"o":2410.2,"h":2411.3,"l":2406.1,"c":2408.1},{"i":447,"o":2410.4,"h":2414.3,"l":2409.7,"c":2414.0},{"i":448,"o":2414.0,"h":2416.6,"l":2413.6,"c":2416.2},{"i":449,"o":2416.2,"h":2417.7,"l":2415.9,"c":2417.2},
{"i":450,"o":2417.2,"h":2417.9,"l":2416.9,"c":2417.4},{"i":451,"o":2417.4,"h":2417.9,"l":2416.6,"c":2416.7},{"i":452,"o":2417.2,"h":2417.5,"l":2415.9,"c":2416.2},{"i":453,"o":2416.2,"h":2416.6,"l":2413.6,"c":2414.3},{"i":454,"o":2425.1,"h":2425.4,"l":2419.5,"c":2419.8},{"i":455,"o":2420.8,"h":2421.1,"l":2416.9,"c":2417.9},{"i":456,"o":2418.9,"h":2419.2,"l":2417.5,"c":2417.8},{"i":457,"o":2417.8,"h":2421.5,"l":2417.2,"c":2420.2},{"i":458,"o":2420.2,"h":2421.8,"l":2416.6,"c":2421.1},{"i":459,"o":2421.1,"h":2426.7,"l":2420.8,"c":2425.2},
{"i":460,"o":2425.2,"h":2440.4,"l":2425.1,"c":2433.2},{"i":461,"o":2433.2,"h":2435.2,"l":2429.0,"c":2434.7},{"i":462,"o":2434.7,"h":2435.2,"l":2431.3,"c":2432.9},{"i":463,"o":2434.2,"h":2434.5,"l":2429.0,"c":2432.9},{"i":464,"o":2433.9,"h":2436.2,"l":2431.0,"c":2432.9},{"i":465,"o":2432.9,"h":2439.1,"l":2432.6,"c":2437.8},{"i":466,"o":2437.63,"h":2438.55,"l":2436.66,"c":2438.43}
],
"levels": [
{"p":2468.75,"grp":"target","label":""},
{"p":2453.12,"grp":"ext2","label":"H1[5/8] M30[+2/8]"},
{"p":2445.31,"grp":"ext1","label":"M30[+1/8]"},
{"p":2437.50,"grp":"edge","label":"D1[7/8] H4[6/8] H1PIVOT M30RES"},
{"p":2429.69,"grp":"q7","label":"M30[7/8]"},
{"p":2421.88,"grp":"q6","label":"H1[3/8] M30[6/8]"},
{"p":2414.06,"grp":"q5","label":"M30[5/8]"},
{"p":2406.25,"grp":"pivot","label":"H4[5/8] H1[2/8] M30PIVOT"},
{"p":2398.44,"grp":"q5","label":"M30[3/8]"},
{"p":2390.62,"grp":"q6","label":"H1[1/8] M30[2/8]"},
{"p":2382.81,"grp":"q7","label":"M30[1/8]"},
{"p":2375.00,"grp":"edge","label":"W1[3/8] D1[6/8] H4PIVOT H1SUP M30SUP"},
{"p":2367.19,"grp":"ext1","label":"M30[-1/8]"},
{"p":2359.38,"grp":"ext2","label":"H1[-1/8] M30[-2/8]"}
],
"bid": [{"p":2438.43}],
"trends": [
{"i1":108.8,"p1":2302.8,"i2":201.3,"p2":2377.7},
{"i1":260.1,"p1":2330.1,"i2":367.6,"p2":2398.6},
{"i1":399.6,"p1":2372.8,"i2":489.1,"p2":2448.1}
],
"arrows": [
{"i1":472.6,"p1":2438.8,"i2":492.7,"p2":2452.8,"leg":"firm"},
{"i1":494.6,"p1":2453.75,"i2":517.8,"p2":2468.7,"leg":"tentative"},
{"i1":517.8,"p1":2468.3,"i2":531.3,"p2":2452.5,"leg":"tentative"},
{"i1":532.3,"p1":2451.6,"i2":583.3,"p2":2375.8,"leg":"firm"},
{"i1":584.6,"p1":2374.5,"i2":609.6,"p2":2333.6,"leg":"tentative"}
],
"title": [{"t":"XAUUSD,M30  2437.63 2438.55 2436.66 2438.43"}]
},
"layer": [
{
"data": {"name": "levels"},
"mark": {"type": "rule", "strokeWidth": 1},
"encoding": {
"y": {"field": "p", "type": "quantitative", "title": null, "scale": {"domain": [2264.54, 2475.97], "nice": false, "zero": false}},
"color": {"field": "grp", "type": "nominal", "legend": null, "scale": {"domain": ["ext2","ext1","edge","pivot","q7","q6","q5","target"], "range": ["#C71585","#FF00FF","#1E90FF","#1E90FF","#FF8C00","#FF4500","#556B2F","#FF0000"]}},
"strokeDash": {"field": "grp", "type": "nominal", "legend": null, "scale": {"domain": ["ext2","ext1","edge","pivot","q7","q6","q5","target"], "range": [[10,4,3,4],[10,4,3,4],[1,0],[18,6],[10,4,3,4],[10,4,3,4],[10,4,3,4],[1,0]]}}
}
},
{
"data": {"name": "bid"},
"mark": {"type": "rule", "strokeWidth": 1, "color": "#C0C0C0"},
"encoding": {
"y": {"field": "p", "type": "quantitative", "title": null, "scale": {"domain": [2264.54, 2475.97], "nice": false, "zero": false}}
}
},
{
"data": {"name": "levels"},
"transform": [{"filter": "datum.label != ''"}],
"mark": {"type": "text", "font": "Liberation Sans", "fontSize": 21, "align": "center", "baseline": "middle", "dy": 12},
"encoding": {
"x": {"datum": 440, "type": "quantitative", "scale": {"domain": [-0.875, 935.125], "nice": false, "zero": false}},
"y": {"field": "p", "type": "quantitative", "title": null, "scale": {"domain": [2264.54, 2475.97], "nice": false, "zero": false}},
"text": {"field": "label"},
"color": {"field": "grp", "type": "nominal", "legend": null, "scale": {"domain": ["ext2","ext1","edge","pivot","q7","q6","q5","target"], "range": ["#C71585","#FF00FF","#1E90FF","#1E90FF","#FF8C00","#FF4500","#556B2F","#FF0000"]}}
}
},
{
"data": {"name": "candles"},
"mark": {"type": "rule", "color": "#000", "strokeWidth": 1},
"encoding": {
"x": {"field": "i", "type": "quantitative", "title": null,
  "scale": {"domain": [-0.875, 935.125], "nice": false, "zero": false},
  "axis": {"values": [0,16,32,48,64,80,96,112,128,144,160,176,192,208,224,240,256,272,288,304,320,336,352,368,384,400,416,432,448,464,480,496,512,528,544,560,576,592,608,624,640,656,672,688,704,720,736,752,768,784,800,816,832,848,864,880,896,912,928],
    "title": null, "grid": true, "gridColor": "#C8C8C8", "gridDash": [3,3], "gridWidth": 1,
    "domainColor": "#000", "domainWidth": 1, "tickColor": "#000", "tickSize": 5,
    "tickOpacity": {"condition": {"test": "datum.value % 32 === 0 && datum.value <= 448", "value": 1}, "value": 0},
    "labelExpr": "(datum.value % 32 === 0 && datum.value <= 448) ? ['6 May 2024','6 May 20:00','7 May 13:00','8 May 06:00','8 May 22:00','9 May 15:00','10 May 08:00','13 May 01:00','13 May 17:00','14 May 10:00','15 May 03:00','15 May 19:00','16 May 12:00','17 May 05:00','17 May 21:00'][datum.value / 32] : ''",
    "labelAlign": "left", "labelPadding": 3, "labelOffset": -5, "labelFont": "Liberation Sans", "labelFontSize": 18, "labelColor": "#000",
    "labelOverlap": false, "labelFlush": false, "labelBound": false}},
"y": {"field": "l", "type": "quantitative", "title": null,
  "scale": {"domain": [2264.54, 2475.97], "nice": false, "zero": false},
  "axis": {"orient": "right", "values": [2471.7,2464.7,2457.6,2450.6,2443.6,2436.6,2429.6,2422.6,2415.6,2408.6,2401.5,2394.5,2387.5,2380.5,2373.5,2366.5,2359.5,2352.5,2345.5,2338.4,2331.4,2324.4,2317.4,2310.4,2303.4,2296.4,2289.4,2282.3,2275.3,2268.3],
    "format": ".2f", "title": null, "grid": true, "gridColor": "#C8C8C8", "gridDash": [3,3], "gridWidth": 1,
    "domainColor": "#000", "domainWidth": 1, "tickColor": "#000", "tickSize": 4,
    "labelAlign": "left", "labelBaseline": "middle", "labelPadding": 5, "labelFont": "Liberation Sans", "labelFontSize": 18, "labelColor": "#000",
    "labelOverlap": false, "labelFlush": false, "labelBound": false}},
"y2": {"field": "h"}
}
},
{
"data": {"name": "candles"},
"mark": {"type": "bar", "size": 2, "stroke": "#000", "strokeWidth": 1},
"encoding": {
"x": {"field": "i", "type": "quantitative", "title": null, "scale": {"domain": [-0.875, 935.125], "nice": false, "zero": false}},
"y": {"field": "o", "type": "quantitative", "title": null, "scale": {"domain": [2264.54, 2475.97], "nice": false, "zero": false}},
"y2": {"field": "c"},
"fill": {"condition": {"test": "datum.c >= datum.o", "value": "#FFFFFF"}, "value": "#000000"}
}
},
{
"data": {"name": "trends"},
"mark": {"type": "rule", "strokeWidth": 5, "color": "#4A5AF0", "strokeCap": "round"},
"encoding": {
"x": {"field": "i1", "type": "quantitative", "title": null, "scale": {"domain": [-0.875, 935.125], "nice": false, "zero": false}},
"y": {"field": "p1", "type": "quantitative", "title": null, "scale": {"domain": [2264.54, 2475.97], "nice": false, "zero": false}},
"x2": {"field": "i2"},
"y2": {"field": "p2"}
}
},
{
"data": {"name": "arrows"},
"transform": [{"filter": "datum.leg == 'firm'"}],
"mark": {"type": "rule", "strokeWidth": 6, "color": "#F03C3C", "strokeCap": "butt"},
"encoding": {
"x": {"field": "i1", "type": "quantitative", "title": null, "scale": {"domain": [-0.875, 935.125], "nice": false, "zero": false}},
"y": {"field": "p1", "type": "quantitative", "title": null, "scale": {"domain": [2264.54, 2475.97], "nice": false, "zero": false}},
"x2": {"field": "i2"},
"y2": {"field": "p2"}
}
},
{
"data": {"name": "arrows"},
"transform": [{"filter": "datum.leg == 'tentative'"}],
"mark": {"type": "rule", "strokeWidth": 6, "color": "#F03C3C", "strokeCap": "butt", "strokeDash": [20, 12]},
"encoding": {
"x": {"field": "i1", "type": "quantitative", "title": null, "scale": {"domain": [-0.875, 935.125], "nice": false, "zero": false}},
"y": {"field": "p1", "type": "quantitative", "title": null, "scale": {"domain": [2264.54, 2475.97], "nice": false, "zero": false}},
"x2": {"field": "i2"},
"y2": {"field": "p2"}
}
},
{
"data": {"name": "arrows"},
"transform": [{"calculate": "atan2((datum.i2 - datum.i1) * 4, (datum.p2 - datum.p1) * 9.27) * 180 / PI", "as": "ang"}],
"mark": {"type": "point", "shape": "M0,-0.5L1,1.6L-1,1.6Z", "filled": true, "color": "#F03C3C", "size": 400, "opacity": 1},
"encoding": {
"x": {"field": "i2", "type": "quantitative", "title": null, "scale": {"domain": [-0.875, 935.125], "nice": false, "zero": false}},
"y": {"field": "p2", "type": "quantitative", "title": null, "scale": {"domain": [2264.54, 2475.97], "nice": false, "zero": false}},
"angle": {"field": "ang", "type": "quantitative", "scale": null}
}
},
{
"data": {"name": "bid"},
"layer": [
{"mark": {"type": "point", "shape": "M-1,-0.2875L1,-0.2875L1,0.2875L-1,0.2875Z", "filled": true, "color": "#000000", "size": 6400, "opacity": 1, "yOffset": 3}},
{"mark": {"type": "text", "font": "Liberation Sans", "fontSize": 18, "color": "#FFFFFF", "align": "center", "baseline": "middle", "dy": 3}, "encoding": {"text": {"field": "p", "format": ".2f"}}}
],
"encoding": {
"x": {"datum": 945.875, "type": "quantitative", "scale": {"domain": [-0.875, 935.125], "nice": false, "zero": false}},
"y": {"field": "p", "type": "quantitative", "title": null, "scale": {"domain": [2264.54, 2475.97], "nice": false, "zero": false}}
}
},
{
"data": {"name": "levels"},
"layer": [
{"mark": {"type": "point", "shape": "M-1,-0.2875L1,-0.2875L1,0.2875L-1,0.2875Z", "filled": true, "size": 6400, "opacity": 1, "yOffset": 3},
 "encoding": {"color": {"field": "grp", "type": "nominal", "legend": null, "scale": {"domain": ["ext2","ext1","edge","pivot","q7","q6","q5","target"], "range": ["#C71585","#FF00FF","#1E90FF","#1E90FF","#FF8C00","#FF4500","#556B2F","#FF0000"]}}}},
{"mark": {"type": "text", "font": "Liberation Sans", "fontSize": 18, "color": "#FFFFFF", "align": "center", "baseline": "middle", "dy": 3}, "encoding": {"text": {"field": "p", "format": ".2f"}}}
],
"encoding": {
"x": {"datum": 945.875, "type": "quantitative", "scale": {"domain": [-0.875, 935.125], "nice": false, "zero": false}},
"y": {"field": "p", "type": "quantitative", "title": null, "scale": {"domain": [2264.54, 2475.97], "nice": false, "zero": false}}
}
},
{
"data": {"values": [{"p": 2468.75}]},
"mark": {"type": "point", "shape": "square", "filled": false, "color": "#FF0000", "strokeWidth": 1, "size": 40, "opacity": 1},
"encoding": {
"x": {"datum": 934.3, "type": "quantitative", "scale": {"domain": [-0.875, 935.125], "nice": false, "zero": false}},
"y": {"field": "p", "type": "quantitative", "title": null, "scale": {"domain": [2264.54, 2475.97], "nice": false, "zero": false}}
}
},
{
"data": {"name": "title"},
"layer": [
{"mark": {"type": "point", "shape": "triangle-down", "filled": true, "color": "#000", "size": 70, "opacity": 1, "xOffset": 11, "yOffset": 18}},
{"mark": {"type": "text", "font": "Liberation Sans", "fontSize": 18, "color": "#000", "align": "left", "baseline": "middle", "dx": 30, "dy": 18}, "encoding": {"text": {"field": "t"}}},
{"mark": {"type": "point", "shape": "triangle-down", "filled": true, "color": "#A0A0A0", "size": 160, "opacity": 1, "yOffset": 2}, "encoding": {"x": {"datum": 466.9, "type": "quantitative", "scale": {"domain": [-0.875, 935.125], "nice": false, "zero": false}}}}
],
"encoding": {
"x": {"datum": -0.875, "type": "quantitative", "scale": {"domain": [-0.875, 935.125], "nice": false, "zero": false}},
"y": {"datum": 2475.97, "type": "quantitative", "scale": {"domain": [2264.54, 2475.97], "nice": false, "zero": false}}
}
}
]
}
